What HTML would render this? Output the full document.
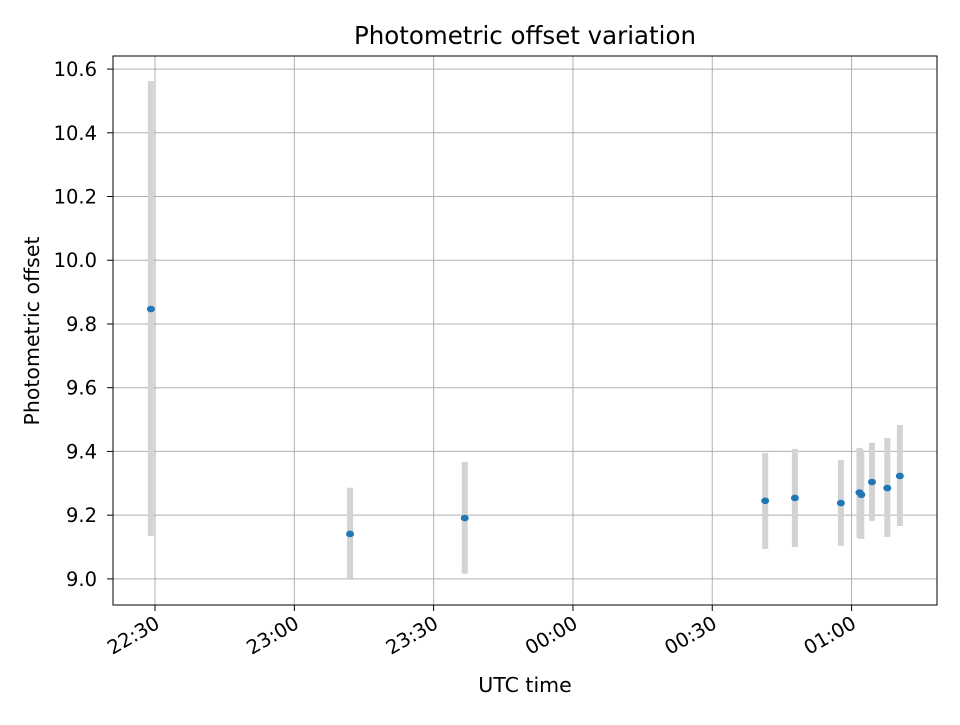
<!DOCTYPE html>
<html><head><meta charset="utf-8"><style>
body{margin:0;background:#fff;font-family:"Liberation Sans","DejaVu Sans",sans-serif}
svg text{font-family:"DejaVu Sans","Liberation Sans",sans-serif;font-size:19.5px;fill:#000}
</style></head><body>
<svg id="c" width="960" height="720"></svg>
<script>
// minutes since 22:00
const times=[29.1,72,96.7,161.4,167.8,177.7,181.7,182.1,184.4,187.7,190.4];
const values=[9.847,9.141,9.191,9.245,9.254,9.238,9.271,9.264,9.304,9.285,9.323];
const lows=[9.135,8.997,9.016,9.094,9.100,9.104,9.129,9.125,9.182,9.132,9.166];
const highs=[10.562,9.286,9.367,9.395,9.408,9.373,9.411,9.405,9.427,9.442,9.483];
const yTicks=[9.0,9.2,9.4,9.6,9.8,10.0,10.2,10.4,10.6];
const xTicks=[30,60,90,120,150,180];
const xTickLabels=["22:30","23:00","23:30","00:00","00:30","01:00"];
const L=113,R=937,T=56,B=605;
const x0=20.95,x1=198.4,y0=8.918,y1=10.641;
const sx=v=>L+(v-x0)/(x1-x0)*(R-L);
const sy=v=>B-(v-y0)/(y1-y0)*(B-T);
const svg=document.getElementById('c');
const NS='http://www.w3.org/2000/svg';
function mk(t,a,p){const e=document.createElementNS(NS,t);for(const k in a)e.setAttribute(k,a[k]);(p||svg).appendChild(e);return e;}
let g;
yTicks.forEach(v=>{const y=sy(v);
g=mk('line',{x1:L,x2:R,y1:y,y2:y,stroke:'#b0b0b0','stroke-width':1});

g=mk('line',{x1:L-6,x2:L,y1:y,y2:y,stroke:'#000'});

g=mk('text',{x:L-16,y:y+7,'text-anchor':'end'});g.textContent=v.toFixed(1);

});
xTicks.forEach((v,i)=>{const x=sx(v);
g=mk('line',{x1:x,x2:x,y1:T,y2:B,stroke:'#b0b0b0','stroke-width':1});

g=mk('line',{x1:x,x2:x,y1:B,y2:B+6,stroke:'#000'});

g=mk('text',{x:x+6,y:B+22,'text-anchor':'end',transform:`rotate(-30 ${x+6} ${B+22})`});g.textContent=xTickLabels[i];

});
times.forEach((t,i)=>{const x=sx(t);
g=mk('line',{x1:x,x2:x,y1:sy(lows[i]),y2:sy(highs[i]),stroke:'#d3d3d3','stroke-width':6});

});
times.forEach((t,i)=>{
g=mk('ellipse',{cx:sx(t),cy:sy(values[i]),rx:4,ry:3.3,fill:'#1f77b4'});

});
g=mk('rect',{x:L,y:T,width:R-L,height:B-T,fill:'none',stroke:'#000','stroke-width':1});

g=mk('text',{x:525,y:44,'text-anchor':'middle',style:'font-size:24.5px'});g.textContent='Photometric offset variation';

g=mk('text',{x:525,y:692,'text-anchor':'middle',style:'font-size:20.5px'});g.textContent='UTC time';

g=mk('text',{x:39,y:331,'text-anchor':'middle',transform:'rotate(-90 39 331)',style:'font-size:20.5px'});g.textContent='Photometric offset';

</script>
</body></html>
